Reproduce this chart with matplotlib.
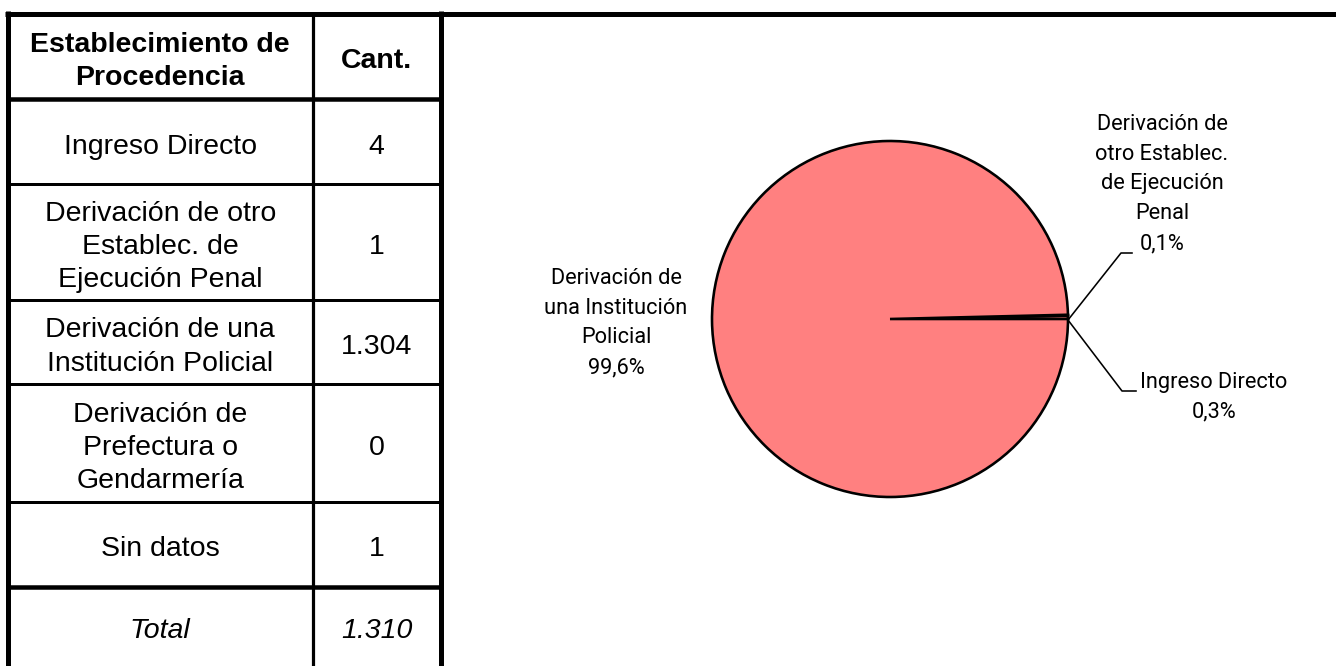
import matplotlib
matplotlib.use("Agg")
import matplotlib.pyplot as plt
from matplotlib import font_manager

# ---------------- data ----------------
header_left = "Establecimiento de\nProcedencia"
header_right = "Cant."
categories = [
    "Ingreso Directo",
    "Derivación de otro\nEstablec. de\nEjecución Penal",
    "Derivación de una\nInstitución Policial",
    "Derivación de\nPrefectura o\nGendarmería",
    "Sin datos",
]
counts = [4, 1, 1304, 0, 1]
total_label = "Total"
total_value = 1310

pie_values = [4, 1, 1304]
pie_labels = [
    "Ingreso Directo",
    "Derivación de\notro Establec.\nde Ejecución\nPenal",
    "Derivación de\nuna Institución\nPolicial",
]
pie_color = "#FF8080"

# ---------------- fonts ----------------
available = {f.name for f in font_manager.fontManager.ttflist}
table_font = "Liberation Sans" if "Liberation Sans" in available else "DejaVu Sans"
narrow_font = table_font
for cand in ["Liberation Sans Narrow", "DejaVu Sans Condensed", "Roboto"]:
    if cand in available:
        narrow_font = cand
        break


def fmt_int(v):
    return f"{v:,}".replace(",", ".")


def fmt_pct(v):
    return f"{v:.1f}%".replace(".", ",")


W, H = 1336, 666
fig = plt.figure(figsize=(W / 100, H / 100), dpi=100)
ax = fig.add_axes([0, 0, 1, 1])
ax.set_xlim(0, W)
ax.set_ylim(H, 0)
ax.axis("off")

px = 0.72  # points per pixel at dpi 100

# table geometry (pixels)
x_left, x_mid, x_right = 7.5, 313, 440.5
row_edges = [13.5, 99, 184, 300, 384, 502, 587, H]

# lines
ax.plot([5, W], [13.5, 13.5], color="black", lw=5 * px, solid_capstyle="butt")
ax.plot([x_left, x_left], [11, H], color="black", lw=5 * px, solid_capstyle="butt")
ax.plot([x_right, x_right], [11, H], color="black", lw=5 * px, solid_capstyle="butt")
ax.plot([x_mid, x_mid], [13, H], color="black", lw=3.2 * px, solid_capstyle="butt")
thick_rows = {1, 6}
for i in range(1, 7):
    y = row_edges[i]
    lw = 4.5 if i in thick_rows else 3
    ax.plot([8, 441], [y, y], color="black", lw=lw * px, solid_capstyle="butt")

cx1 = (x_left + x_mid) / 2
cx2 = (x_mid + x_right) / 2
fs = 20.5
tls = 1.37
dy = 5

yc = (row_edges[0] + row_edges[1]) / 2 + dy
ax.text(cx1, yc, header_left, ha="center", va="center", fontsize=fs,
        fontweight="bold", family=table_font, linespacing=tls)
ax.text(cx2, yc, header_right, ha="center", va="center", fontsize=fs,
        fontweight="bold", family=table_font)

for i, (cat, v) in enumerate(zip(categories, counts)):
    yc = (row_edges[i + 1] + row_edges[i + 2]) / 2 + dy
    ax.text(cx1, yc, cat, ha="center", va="center", fontsize=fs,
            family=table_font, linespacing=tls)
    ax.text(cx2, yc, fmt_int(v), ha="center", va="center", fontsize=fs,
            family=table_font)

yc = (row_edges[6] + row_edges[7]) / 2 + dy
ax.text(cx1, yc, total_label, ha="center", va="center", fontsize=fs,
        family=table_font, style="italic")
ax.text(cx2, yc, fmt_int(total_value), ha="center", va="center", fontsize=fs,
        family=table_font, style="italic")

# ---------------- pie ----------------
pcx, pcy, r = 890, 319, 178
pax = fig.add_axes([(pcx - r) / W, (H - pcy - r) / H, 2 * r / W, 2 * r / H])
pax.pie(pie_values, colors=[pie_color] * len(pie_values), startangle=0,
        counterclock=True, radius=1,
        wedgeprops=dict(edgecolor="black", linewidth=2.6 * px))
pax.set_xlim(-1, 1)
pax.set_ylim(-1, 1)
pax.axis("off")

tot = sum(pie_values)
pcts = [v / tot * 100 for v in pie_values]
pfs = 15.7
pls = 1.55

# leader lines (pixel coords on main axes)
ax.plot([1068, 1121, 1132], [320, 253, 253], color="black", lw=1.6 * px, zorder=5)
ax.plot([1068, 1122, 1136], [320, 391, 391], color="black", lw=1.6 * px, zorder=5)

ax.text(1162, 184, pie_labels[1] + "\n" + fmt_pct(pcts[1]), ha="center",
        va="center", fontsize=pfs, family=narrow_font, linespacing=pls)
ax.text(1214, 397, pie_labels[0] + "\n" + fmt_pct(pcts[0]), ha="center",
        va="center", fontsize=pfs, family=narrow_font, linespacing=pls)
ax.text(616, 323, pie_labels[2] + "\n" + fmt_pct(pcts[2]), ha="center",
        va="center", fontsize=pfs, family=narrow_font, linespacing=pls)

fig.savefig("out.png", dpi=100)
